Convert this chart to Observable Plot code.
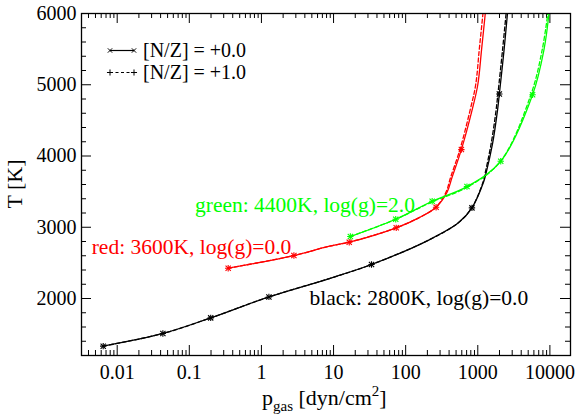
<!DOCTYPE html>
<html><head><meta charset="utf-8">
<script src="https://cdn.jsdelivr.net/npm/d3@7"></script>
<script src="https://cdn.jsdelivr.net/npm/@observablehq/plot@0.6"></script>
<style>body{margin:0;background:#fff}#chart{width:577px;height:418px}</style>
</head><body><div id="chart"></div>
<script>
// ---- data ----
// black: 2800K, log(g)=0.0
const blackLineP   = [0.0064, 0.043, 0.198, 1.27, 8.75, 33.6, 209, 543, 830, 1200, 1295, 1600, 1875, 1990, 2320, 2580];
const blackLineT   = [1331, 1509, 1728, 2022, 2280, 2477, 2820, 3065, 3272, 3631, 3750, 4170, 4637, 4870, 5500, 6000];
const blackDashP   = [0.0064, 0.043, 0.198, 1.27, 8.75, 33.6, 209, 540, 825, 1180, 1260, 1530, 1790, 1900, 2210, 2470];
const blackDashT   = [1331, 1509, 1728, 2022, 2280, 2477, 2820, 3065, 3272, 3631, 3750, 4170, 4637, 4870, 5500, 6000];
const blackMarkP   = [0.0064, 0.043, 0.198, 1.27, 33.6, 830, 1990];
const blackMarkT   = [1331, 1509, 1728, 2022, 2477, 3272, 4870];
// red: 3600K, log(g)=0.0
const redLineP     = [0.346, 2.82, 8.75, 16.5, 74, 152, 264, 375, 440, 592, 830, 1000, 1130, 1270];
const redLineT     = [2425, 2603, 2734, 2790, 2992, 3132, 3281, 3491, 3701, 4090, 4637, 5000, 5500, 6000];
const redDashP     = [0.346, 2.82, 8.75, 16.5, 74, 152, 262, 362, 420, 565, 780, 935, 1050, 1180];
const redDashT     = [2425, 2603, 2734, 2790, 2992, 3132, 3281, 3491, 3701, 4090, 4637, 5000, 5500, 6000];
const redMarkP     = [0.346, 2.82, 16.5, 74, 264, 592];
const redMarkT     = [2425, 2603, 2790, 2992, 3281, 4090];
// green: 4400K, log(g)=2.0
const greenLineP   = [17.1, 72.8, 233, 708, 2080, 5750, 8300, 9700];
const greenLineT   = [2870, 3112, 3365, 3571, 3926, 4860, 5500, 6000];
const greenDashP   = [17.1, 72.8, 235, 715, 2050, 5450, 7850, 9350];
const greenDashT   = [2870, 3112, 3358, 3562, 3920, 4860, 5500, 6000];
const greenMarkP   = [17.1, 72.8, 233, 708, 2080, 5750];
const greenMarkT   = [2870, 3112, 3365, 3571, 3926, 4860];

// axes
const xMajor = [0.01, 0.1, 1, 10, 100, 1000, 10000];
const xTickLabels = ["0.01", "0.1", "1", "10", "100", "1000", "10000"];
const yMajor = [2000, 3000, 4000, 5000, 6000];
const yTickLabels = ["2000", "3000", "4000", "5000", "6000"];
const xDomain = [0.0032, 19300];
const yDomain = [1200, 6000];

// annotations
const labelText  = ["green: 4400K, log(g)=2.0", "red: 3600K, log(g)=0.0", "black: 2800K, log(g)=0.0"];
const labelP     = [0.12, 0.00443, 4.63];
const labelT     = [3304, 2728, 2004];
const labelColor = ["#00ff00", "#ff0000", "#000000"];
const legendText = ["[N/Z] = +0.0", "[N/Z] = +1.0"];

// ---- build ----
const pts = (P, T) => P.map((p, i) => ({p, T: T[i]}));
const xMinor = [];
for (let e = -3; e <= 4; e++) for (let m = 2; m <= 9; m++) {
  const v = +(m * Math.pow(10, e)).toPrecision(3);
  if (v > xDomain[0] && v < xDomain[1]) xMinor.push(v);
}
const yMinor = d3.range(1400, 6000, 200).filter(v => v % 1000 !== 0);

const W = 577, H = 418, mL = 81, mR = 7, mT = 13, mB = 63;
const FW = W - mL - mR, FH = H - mT - mB;
const font = "'Liberation Serif', 'Times New Roman', 'DejaVu Serif', serif";

function series(lineP, lineT, dashP, dashT, markP, markT, color) {
  return [
    Plot.line(pts(lineP, lineT), {x: "p", y: "T", stroke: color, strokeWidth: 1.3, curve: "catmull-rom", clip: true}),
    Plot.line(pts(dashP, dashT), {x: "p", y: "T", stroke: color, strokeWidth: 1.3, strokeDasharray: "4,2.5", curve: "catmull-rom", clip: true}),
    Plot.dot(pts(markP, markT), {x: "p", y: "T", symbol: "times", r: 2.5, stroke: color, strokeWidth: 1.1}),
    Plot.dot(pts(markP, markT), {x: "p", y: "T", symbol: "plus", r: 2.2, stroke: color, strokeWidth: 1.1})
  ];
}

const chart = Plot.plot({
  width: W, height: H,
  marginLeft: mL, marginRight: mR, marginTop: mT, marginBottom: mB,
  style: {fontFamily: font, fontSize: "20px", background: "#fff", color: "#000", overflow: "visible"},
  x: {type: "log", domain: xDomain},
  y: {domain: yDomain},
  marks: [
    // inward ticks
    Plot.tickX(xMajor, {x: d => d, insetTop: FH - 10, stroke: "#000"}),
    Plot.tickX(xMajor, {x: d => d, insetBottom: FH - 10, stroke: "#000"}),
    Plot.tickX(xMinor, {x: d => d, insetTop: FH - 5, stroke: "#000"}),
    Plot.tickX(xMinor, {x: d => d, insetBottom: FH - 5, stroke: "#000"}),
    Plot.tickY(yMajor, {y: d => d, insetRight: FW - 10, stroke: "#000"}),
    Plot.tickY(yMajor, {y: d => d, insetLeft: FW - 10, stroke: "#000"}),
    Plot.tickY(yMinor, {y: d => d, insetRight: FW - 5, stroke: "#000"}),
    Plot.tickY(yMinor, {y: d => d, insetLeft: FW - 5, stroke: "#000"}),
    Plot.axisX(xMajor, {anchor: "bottom", tickSize: 0, tickPadding: 9, label: null,
      tickFormat: d => xTickLabels[xMajor.indexOf(d)], fontSize: 20}),
    Plot.axisY(yMajor, {anchor: "left", tickSize: 0, tickPadding: 5, label: null,
      tickFormat: d => yTickLabels[yMajor.indexOf(d)], fontSize: 20}),
    ...series(blackLineP, blackLineT, blackDashP, blackDashT, blackMarkP, blackMarkT, "#000000"),
    ...series(redLineP, redLineT, redDashP, redDashT, redMarkP, redMarkT, "#ff0000"),
    ...series(greenLineP, greenLineT, greenDashP, greenDashT, greenMarkP, greenMarkT, "#00ff00"),
    Plot.text(labelText.map((t, i) => ({t, p: labelP[i], T: labelT[i], c: labelColor[i]})),
      {x: "p", y: "T", text: "t", fill: "c", textAnchor: "start", lineAnchor: "middle", fontSize: 21.5}),
    Plot.frame({stroke: "#000", strokeWidth: 1.3})
  ]
});
document.getElementById("chart").appendChild(chart);

// axis titles and legend
const svg = d3.select(chart);
svg.append("text").attr("transform", "translate(21.5,184) rotate(-90)")
  .attr("text-anchor", "middle").attr("font-family", font).attr("font-size", 22).attr("fill", "#000")
  .text("T [K]");
const xt = svg.append("text").attr("x", 262).attr("y", 405).attr("text-anchor", "start")
  .attr("font-family", font).attr("font-size", 22).attr("fill", "#000");
xt.append("tspan").text("p");
xt.append("tspan").attr("font-size", 15).attr("dy", 6).text("gas");
xt.append("tspan").attr("dy", -6).text(" [dyn/cm");
xt.append("tspan").attr("font-size", 15).attr("dy", -9).text("2");
xt.append("tspan").attr("dy", 9).text("]");

const legendRows = [
  {y: 50.5, dash: null, sym: d3.symbolTimes, size: 14, text: legendText[0]},
  {y: 72.5, dash: "3,2.5", sym: d3.symbolPlus, size: 14, text: legendText[1]}
];
const lg = svg.append("g");
legendRows.forEach(r => {
  lg.append("line").attr("x1", 110).attr("x2", 134).attr("y1", r.y).attr("y2", r.y)
    .attr("stroke", "#000").attr("stroke-width", 1.2).attr("stroke-dasharray", r.dash);
  [110, 134].forEach(x => lg.append("path").attr("d", d3.symbol(r.sym, r.size)())
    .attr("transform", `translate(${x},${r.y})`).attr("stroke", "#000").attr("fill", "none").attr("stroke-width", 1));
  lg.append("text").attr("x", 143).attr("y", r.y + 6.5).attr("text-anchor", "start").attr("font-family", font)
    .attr("font-size", 20).attr("fill", "#000").text(r.text);
});
</script>
</body></html>
